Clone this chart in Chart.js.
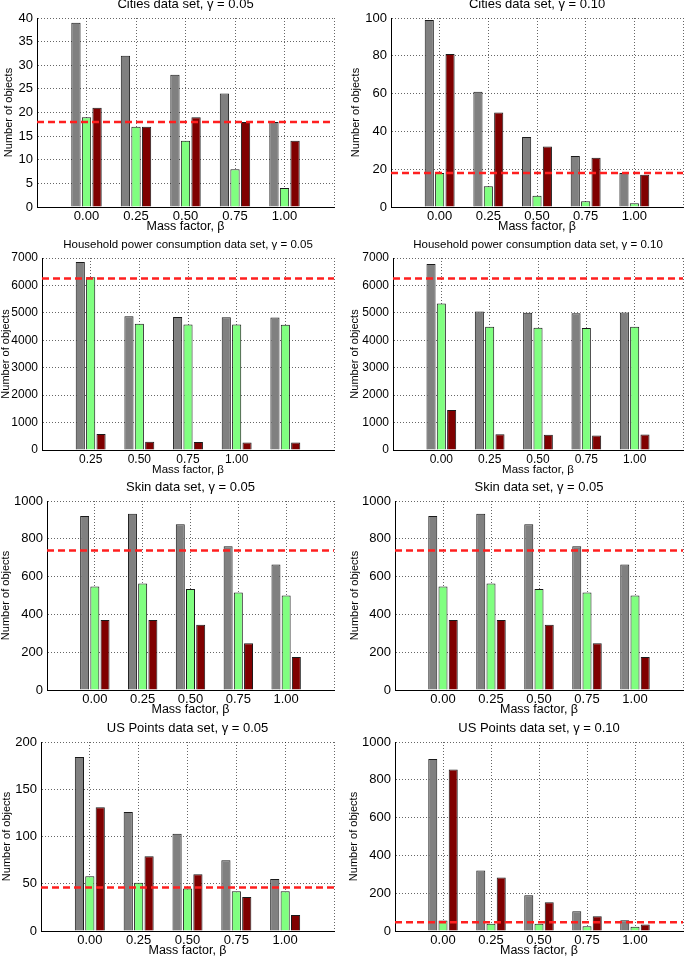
<!DOCTYPE html>
<html>
<head>
<meta charset="utf-8">
<script src="https://cdn.jsdelivr.net/npm/chart.js@4.4.1/dist/chart.umd.min.js"></script>
<style>
  html, body { margin: 0; padding: 0; background: #fff; }
  body { position: relative; width: 685px; height: 956px; overflow: hidden; }
  canvas { position: absolute; }
</style>
</head>
<body>
<script>
// x tick labels (mass factor beta)
const betaLabels = ['0.00', '0.25', '0.50', '0.75', '1.00'];
const betaLabelsShifted = ['0.25', '0.50', '0.75', '1.00', ''];

// Cities, gamma = 0.05
const cities05Bar1 = [39, 32, 28, 24, 18];
const cities05Bar2 = [19, 17, 14, 8, 4];
const cities05Bar3 = [21, 17, 19, 18, 14];
const cities05Ref = 18;

// Cities, gamma = 0.10
const cities10Bar1 = [99, 61, 37, 27, 18];
const cities10Bar2 = [18, 11, 6, 3, 2];
const cities10Bar3 = [81, 50, 32, 26, 17];
const cities10Ref = 18;

// Household power consumption, gamma = 0.05
const hpc05Bar1 = [6850, 4880, 4850, 4840, 4830];
const hpc05Bar2 = [6300, 4600, 4580, 4580, 4570];
const hpc05Bar3 = [580, 300, 290, 275, 275];
const hpc05Ref = 6250;

// Household power consumption, gamma = 0.10
const hpc10Bar1 = [6780, 5050, 5000, 4990, 5010];
const hpc10Bar2 = [5340, 4490, 4460, 4450, 4490];
const hpc10Bar3 = [1455, 578, 555, 530, 565];
const hpc10Ref = 6250;

// Skin, gamma = 0.05 (shown twice)
const skin05Bar1 = [921, 933, 877, 761, 664];
const skin05Bar2 = [547, 564, 534, 516, 500];
const skin05Bar3 = [370, 370, 345, 248, 174];
const skin05Ref = 738;

// US Points, gamma = 0.05
const us05Bar1 = [184, 126, 103, 75, 55];
const us05Bar2 = [58, 51, 45, 42, 42];
const us05Bar3 = [131, 79, 60, 36, 17];
const us05Ref = 46;

// US Points, gamma = 0.10
const us10Bar1 = [910, 320, 189, 105, 57];
const us10Bar2 = [55, 39, 39, 25, 23];
const us10Bar3 = [855, 283, 152, 78, 35];
const us10Ref = 46;

Chart.defaults.font.family = '"Liberation Sans", Arial, Helvetica, sans-serif';
Chart.defaults.color = '#000';

// box = [plot left, plot right, plot top, plot bottom] in page pixels
const panels = [
  { title: 'Cities data set, \u03b3 = 0.05', labels: betaLabels, s1: cities05Bar1, s2: cities05Bar2, s3: cities05Bar3, ref: cities05Ref, yMax: 40, yStep: 5,
    box: [37, 335, 18, 207], yTitleX: 9, big: true },
  { title: 'Cities data set, \u03b3 = 0.10', labels: betaLabels, s1: cities10Bar1, s2: cities10Bar2, s3: cities10Bar3, ref: cities10Ref, yMax: 100, yStep: 20,
    box: [391, 684, 18, 207], yTitleX: 356, big: true },
  { title: 'Household power consumption data set, \u03b3 = 0.05', labels: betaLabelsShifted, s1: hpc05Bar1, s2: hpc05Bar2, s3: hpc05Bar3, ref: hpc05Ref, yMax: 7000, yStep: 1000,
    box: [42, 335, 258, 450], yTitleX: 6, big: false },
  { title: 'Household power consumption data set, \u03b3 = 0.10', labels: betaLabels, s1: hpc10Bar1, s2: hpc10Bar2, s3: hpc10Bar3, ref: hpc10Ref, yMax: 7000, yStep: 1000,
    box: [393, 684, 258, 450], yTitleX: 355, big: false },
  { title: 'Skin data set, \u03b3 = 0.05', labels: betaLabels, s1: skin05Bar1, s2: skin05Bar2, s3: skin05Bar3, ref: skin05Ref, yMax: 1000, yStep: 200,
    box: [47, 335, 501, 690], yTitleX: 6, big: true },
  { title: 'Skin data set, \u03b3 = 0.05', labels: betaLabels, s1: skin05Bar1, s2: skin05Bar2, s3: skin05Bar3, ref: skin05Ref, yMax: 1000, yStep: 200,
    box: [395, 684, 501, 690], yTitleX: 355, big: true },
  { title: 'US Points data set, \u03b3 = 0.05', labels: betaLabels, s1: us05Bar1, s2: us05Bar2, s3: us05Bar3, ref: us05Ref, yMax: 200, yStep: 50,
    box: [41, 335, 742, 931], yTitleX: 6.5, big: true },
  { title: 'US Points data set, \u03b3 = 0.10', labels: betaLabels, s1: us10Bar1, s2: us10Bar2, s3: us10Bar3, ref: us10Ref, yMax: 1000, yStep: 200,
    box: [395, 684, 742, 931], yTitleX: 354, big: true }
];

const gridColor = 'rgba(0,0,0,0.6)';

function drawPanel(p) {
  const [L, R, T, B] = p.box;
  const titleSize = p.big ? 13 : 11.5;
  const tickSize = p.big ? 13 : 12;
  const xTitleSize = p.big ? 12.5 : 11.5;
  const yTitleSize = 11;

  const left = L < 340 ? 0 : 340;
  const top = Math.floor(T - 13 - titleSize / 2);
  const xAxisH = 26;
  const padRight = 1;
  const w = R - left + padRight;
  const h = B - top + xAxisH;

  const cv = document.createElement('canvas');
  cv.width = w;
  cv.height = h;
  cv.style.left = left + 'px';
  cv.style.top = top + 'px';
  document.body.appendChild(cv);

  // one empty slot on each side, like the original x limits
  const cats = [''].concat(p.labels, ['']);
  const pad = arr => [null].concat(arr, [null]);
  const refLine = cats.map(() => p.ref);

  const bar = { borderColor: '#1a1a1a', borderWidth: 1, borderSkipped: 'bottom',
                categoryPercentage: 0.64, barPercentage: 0.88, order: 1 };

  new Chart(cv, {
    type: 'bar',
    data: {
      labels: cats,
      datasets: [
        { type: 'line', data: refLine, borderColor: '#ff1f1f', borderWidth: 2.5, borderDash: [7, 4],
          pointRadius: 0, fill: false, order: 0 },
        Object.assign({ data: pad(p.s1), backgroundColor: '#808080' }, bar),
        Object.assign({ data: pad(p.s2), backgroundColor: '#80ff80' }, bar),
        Object.assign({ data: pad(p.s3), backgroundColor: '#800000' }, bar)
      ]
    },
    options: {
      responsive: false,
      animation: false,
      events: [],
      layout: { padding: { left: 0, right: padRight, top: 0, bottom: 0 } },
      plugins: {
        legend: { display: false },
        tooltip: { enabled: false },
        title: {
          display: true, text: p.title, fullSize: false, color: '#000',
          font: { size: titleSize, weight: 'normal', lineHeight: 1 },
          padding: { top: 0, bottom: T - top - titleSize }
        }
      },
      scales: {
        x: {
          offset: false,
          grid: { color: gridColor, drawTicks: false, offset: false },
          border: { color: '#000', width: 1, dash: [1, 2] },
          ticks: { autoSkip: false, maxRotation: 0, minRotation: 0, padding: 2, color: '#000', font: { size: tickSize } },
          title: { display: true, text: 'Mass factor, \u03b2', color: '#000', font: { size: xTitleSize, lineHeight: 1 }, padding: 0 },
          afterFit: s => { s.height = xAxisH; }
        },
        y: {
          min: 0, max: p.yMax,
          grid: { color: gridColor, drawTicks: false },
          border: { color: '#000', width: 1, dash: [1, 2] },
          ticks: { stepSize: p.yStep, padding: 4, color: '#000', font: { size: tickSize }, callback: v => String(v) },
          title: { display: true, text: 'Number of objects', color: '#000', font: { size: yTitleSize, lineHeight: 1 },
                   padding: { top: p.yTitleX - left - yTitleSize / 2, bottom: 0 } },
          afterFit: s => { s.width = L - left; }
        }
      }
    }
  });
}

panels.forEach(drawPanel);
</script>
</body>
</html>
